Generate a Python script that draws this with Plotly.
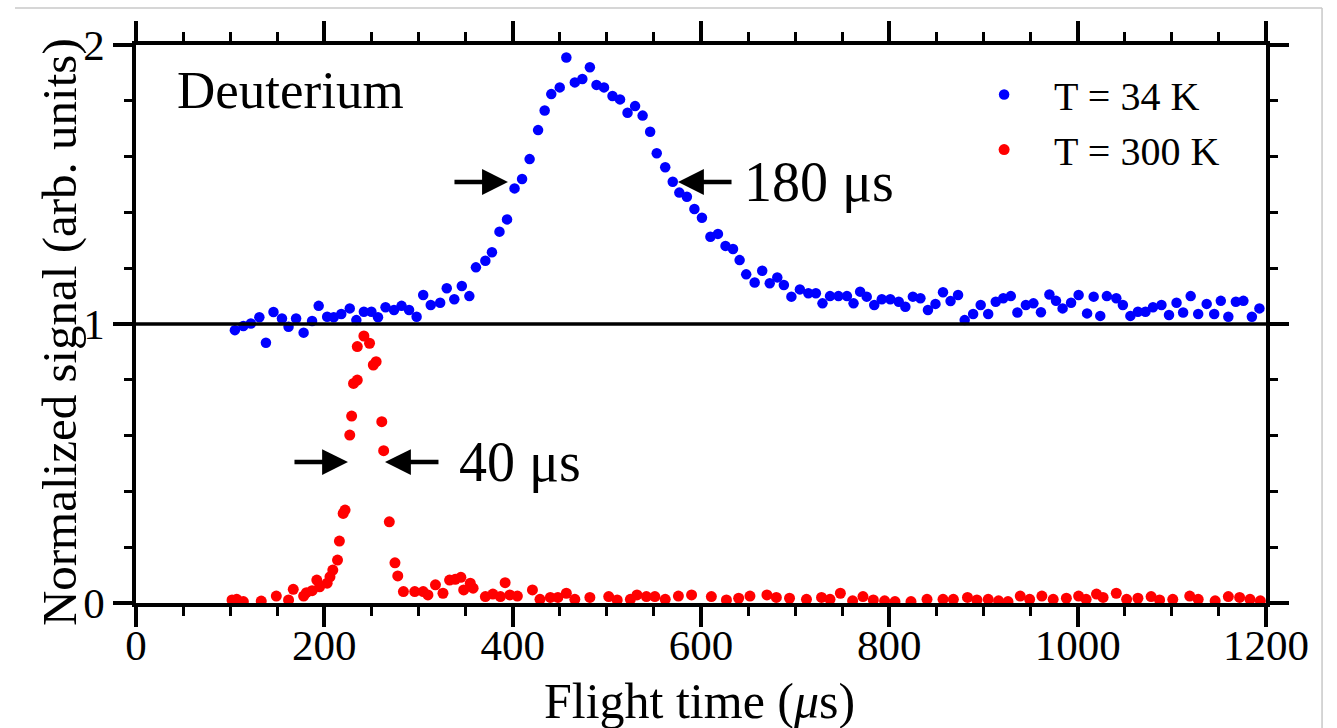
import plotly.graph_objects as go

# ---------------- data ----------------
t34_x = [105, 114, 122, 131, 138, 146, 155, 162, 170, 178, 187, 194, 203, 210, 218, 227, 234, 242, 250, 257,
         265, 274, 282, 290, 298, 305, 313, 323, 330, 338, 346, 354, 361, 371, 378, 386, 394, 402, 410, 418,
         427, 434, 441, 450, 457, 466, 474, 482, 489, 497, 506, 514, 522, 530, 538, 546, 553, 562, 570, 577,
         585, 593, 601, 610, 618, 626, 634, 641, 648, 657, 665, 673, 681, 688, 696, 705, 714, 722, 729, 737,
         746, 755, 762, 769, 776, 784, 792, 801, 810, 817, 825, 833, 841, 849, 857, 865, 873, 880, 889, 897,
         905, 913, 921, 929, 936, 945, 953, 961, 970, 977, 984, 993, 1001, 1010, 1017, 1024, 1031, 1041, 1048, 1056,
         1064, 1072, 1080, 1089, 1097, 1105, 1112, 1120, 1128, 1137, 1145, 1152, 1160, 1168, 1176, 1185, 1193]
t34_y = [0.978, 0.993, 1.002, 1.024, 0.933, 1.043, 1.020, 0.990, 1.020, 0.969, 1.011, 1.065, 1.026, 1.024, 1.036, 1.056, 1.014, 1.044, 1.044, 1.024,
         1.060, 1.050, 1.065, 1.050, 1.026, 1.104, 1.068, 1.076, 1.128, 1.089, 1.136, 1.100, 1.203, 1.227, 1.257, 1.331, 1.375, 1.486, 1.520, 1.591,
         1.695, 1.765, 1.824, 1.848, 1.955, 1.866, 1.878, 1.920, 1.857, 1.848, 1.817, 1.805, 1.757, 1.781, 1.747, 1.689, 1.612, 1.562, 1.510, 1.471,
         1.456, 1.412, 1.381, 1.313, 1.323, 1.280, 1.269, 1.229, 1.178, 1.149, 1.191, 1.146, 1.167, 1.140, 1.098, 1.124, 1.110, 1.110, 1.074, 1.100,
         1.100, 1.100, 1.074, 1.116, 1.098, 1.068, 1.089, 1.089, 1.080, 1.062, 1.098, 1.092, 1.050, 1.072, 1.114, 1.082, 1.104, 1.014, 1.036, 1.068,
         1.036, 1.080, 1.092, 1.100, 1.041, 1.068, 1.074, 1.042, 1.106, 1.083, 1.056, 1.076, 1.104, 1.038, 1.098, 1.029, 1.100, 1.092, 1.068, 1.029,
         1.044, 1.044, 1.060, 1.068, 1.032, 1.076, 1.041, 1.100, 1.036, 1.072, 1.036, 1.083, 1.026, 1.080, 1.083, 1.026, 1.056]

t300_x = [102, 107, 114, 133, 149, 162, 167, 178, 181, 187, 192, 195, 203, 206, 209, 214, 216, 220, 222, 227,
          229, 231, 235, 235, 242, 248, 252, 255, 261, 263, 269, 275, 278, 284, 296, 305, 310, 318, 326, 333,
          339, 345, 348, 355, 358, 371, 379, 387, 392, 397, 405, 421, 429, 440, 448, 457, 466, 482, 502, 511,
          525, 532, 542, 551, 562, 576, 590, 611, 627, 640, 652, 670, 680, 694, 712, 728, 737, 748, 761, 772,
          783, 795, 806, 823, 840, 857, 868, 883, 893, 905, 916, 926, 939, 949, 962, 974, 988, 1001, 1009, 1020,
          1027, 1041, 1052, 1064, 1078, 1087, 1101, 1119, 1128, 1146, 1160, 1172, 1183, 1194]
t300_y = [0.011, 0.013, 0.005, 0.007, 0.025, 0.011, 0.049, 0.025, 0.037, 0.044, 0.082, 0.058, 0.071, 0.094, 0.118, 0.154, 0.222, 0.321, 0.333, 0.602,
          0.670, 0.787, 0.799, 0.919, 0.957, 0.931, 0.853, 0.865, 0.650, 0.546, 0.291, 0.144, 0.097, 0.041, 0.041, 0.041, 0.029, 0.065, 0.035, 0.082,
          0.085, 0.092, 0.047, 0.071, 0.053, 0.023, 0.032, 0.023, 0.073, 0.029, 0.025, 0.047, 0.013, 0.020, 0.020, 0.035, 0.013, 0.020, 0.023, 0.011,
          0.013, 0.029, 0.023, 0.023, 0.013, 0.025, 0.029, 0.023, 0.011, 0.017, 0.025, 0.029, 0.020, 0.017, 0.013, 0.020, 0.013, 0.035, 0.008, 0.023,
          0.011, 0.008, 0.005, 0.005, 0.013, 0.013, 0.013, 0.020, 0.011, 0.013, 0.008, 0.005, 0.025, 0.013, 0.025, 0.013, 0.017, 0.025, 0.013, 0.032,
          0.020, 0.035, 0.013, 0.017, 0.023, 0.011, 0.013, 0.025, 0.013, 0.008, 0.023, 0.020, 0.013, 0.008]

series_names = ["T = 34 K", "T = 300 K"]
x_ticks = [0, 200, 400, 600, 800, 1000, 1200]
y_ticks = [0, 1, 2]

FONT = "Liberation Serif"

fig = go.Figure()
fig.add_trace(go.Scatter(x=t34_x, y=t34_y, mode="markers", name=series_names[0],
                         marker=dict(color="#0000ff", size=10.5, line=dict(width=0))))
fig.add_trace(go.Scatter(x=t300_x, y=t300_y, mode="markers", name=series_names[1],
                         marker=dict(color="#ff0000", size=11, line=dict(width=0))))

axis_common = dict(showline=True, linecolor="black", linewidth=3.5, mirror="ticks",
                   ticks="outside", tickcolor="black", tickwidth=3.5, showgrid=False, zeroline=False,
                   tickfont=dict(family=FONT, size=43, color="black"))

fig.update_xaxes(range=[0, 1200], tickvals=x_ticks, ticklen=20, ticklabelstandoff=-18,
                 minor=dict(dtick=50, tick0=0, ticks="outside", ticklen=9, tickwidth=3, tickcolor="black"),
                 **axis_common)
fig.update_yaxes(range=[0, 2], tickvals=y_ticks, ticklen=19,
                 minor=dict(dtick=0.2, tick0=0, ticks="outside", ticklen=8, tickwidth=3, tickcolor="black"),
                 **axis_common)

# separator line at y = 1
fig.add_shape(type="line", xref="paper", yref="y", x0=0, x1=1, y0=1, y1=1,
              line=dict(color="black", width=3.5))
# light frame edge of the original picture
fig.add_shape(type="line", xref="paper", yref="paper", x0=-0.1071, x1=1.0496, y0=1.0663, y1=1.0663,
              line=dict(color="#c8c8c8", width=1.5))
fig.add_shape(type="line", xref="paper", yref="paper", x0=1.0496, x1=1.0496, y0=1.0663, y1=-0.3,
              line=dict(color="#c8c8c8", width=1.5))

ann = []
ann.append(dict(text="Deuterium", x=41, y=1.84, xref="x", yref="y", xanchor="left", yanchor="middle",
                showarrow=False, font=dict(family=FONT, size=53, color="black")))
# FWHM arrows
arrow_style = dict(showarrow=True, arrowhead=2, arrowsize=1.15, arrowwidth=4.5, arrowcolor="black",
                   axref="x", ayref="y", xref="x", yref="y", text="")
ann.append(dict(x=395, y=1.509, ax=336.6, ay=1.509, **arrow_style))
ann.append(dict(x=575.6, y=1.509, ax=634, ay=1.509, **arrow_style))
ann.append(dict(x=225.1, y=0.505, ax=166.7, ay=0.505, **arrow_style))
ann.append(dict(x=264.4, y=0.505, ax=322.8, ay=0.505, **arrow_style))
ann.append(dict(text="180 μs", x=644, y=1.509, xref="x", yref="y", xanchor="left", yanchor="middle",
                showarrow=False, font=dict(family=FONT, size=56, color="black")))
ann.append(dict(text="40 μs", x=341, y=0.505, xref="x", yref="y", xanchor="left", yanchor="middle",
                showarrow=False, font=dict(family=FONT, size=56, color="black")))
# axis titles
ann.append(dict(text="Flight time (<i>μ</i>s)", x=0.499, y=-0.176, xref="paper", yref="paper",
                xanchor="center", yanchor="middle", showarrow=False,
                font=dict(family=FONT, size=50, color="black")))
ann.append(dict(text="Normalized signal (arb. units)", x=-0.067, y=0.486, xref="paper", yref="paper",
                xanchor="center", yanchor="middle", showarrow=False, textangle=-90,
                font=dict(family=FONT, size=49, color="black")))

fig.update_layout(
    width=1337, height=728,
    margin=dict(l=136, r=71, t=45, b=125),
    paper_bgcolor="white", plot_bgcolor="white",
    font=dict(family=FONT, color="black"),
    annotations=ann,
    legend=dict(x=0.724, y=0.9695, xanchor="left", yanchor="top",
                bgcolor="rgba(0,0,0,0)", borderwidth=0, itemwidth=90,
                font=dict(family=FONT, size=40, color="black")),
    showlegend=True,
)

fig.write_html("out.html")
